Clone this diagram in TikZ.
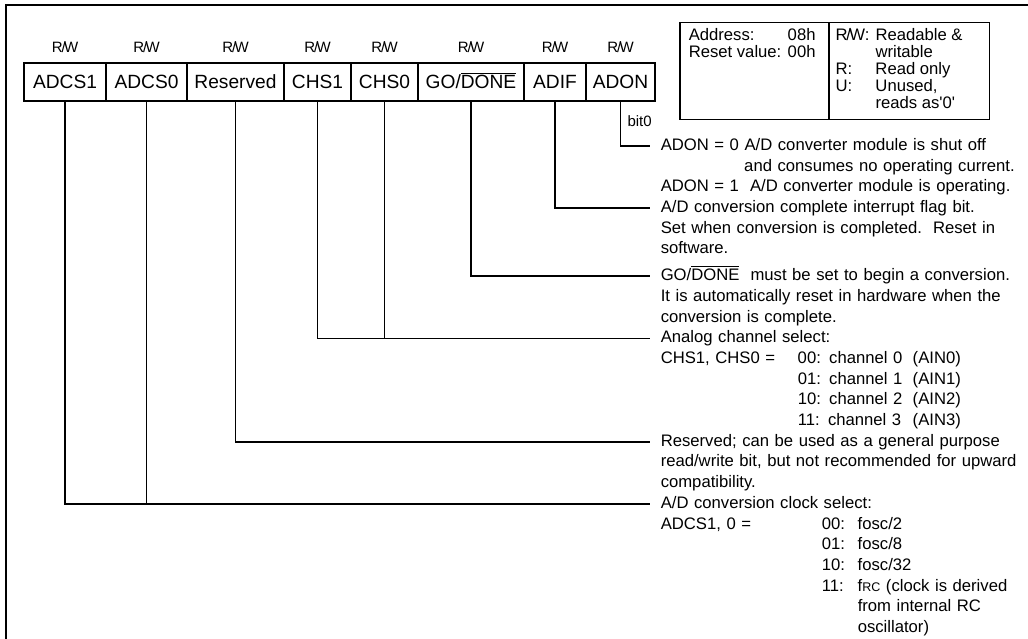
\documentclass[tikz,border=0pt]{standalone}
\usepackage{fontspec}
\setmainfont{Liberation Sans}
\usepackage{tikz}
\usetikzlibrary{positioning}
\newlength{\descw}
\setlength{\descw}{212.4pt}
\setlength{\arrayrulewidth}{0.9pt}
\newcommand{\jline}[1]{\makebox[\descw][s]{#1}}
\newcommand{\rline}[1]{\makebox[\descw][r]{#1}}
\newcommand{\rw}{R\kern-0.7pt/\kern-1pt W}
\newcommand{\notdone}{$\overline{\mbox{DONE}}$}
\newcommand{\chtab}[3]{\makebox[82.2pt][l]{#1}\makebox[69pt][l]{#2}#3}
\newcommand{\cktab}[3]{\makebox[96.6pt][l]{#1}\makebox[21.6pt][l]{#2}#3}

\begin{document}
\begin{tikzpicture}[
  x=0.6pt, y=-0.6pt,
  line width=0.9pt,
  reg/.style={draw, outer sep=0pt, inner sep=0pt, minimum height=22.8pt,
              minimum width=#1, text height=8.3pt, text depth=0pt,
              font=\fontsize{11.5}{13}\selectfont},
  acc/.style={inner sep=0pt, font=\fontsize{9}{10}\selectfont},
  desc/.style={inner sep=0pt, anchor=mid west, text width=\descw, align=left,
               font=\fontsize{10}{12.42}\selectfont},
  legend/.style={draw, inner sep=0pt, anchor=north west,
                 font=\fontsize{10}{10.2}\selectfont},
  lead/.style={shorten >=6pt},
]
\useasboundingbox (0,0) rectangle (1028,639);
% frame
\draw (6,639) -- (6,5) -- (1028,5);

% ===================== register bits =====================
\node[reg=49.2pt, anchor=north west] (adcs1) at (24,63) {ADCS1};
\node[reg=48.6pt, right=0pt of adcs1] (adcs0) {ADCS0};
\node[reg=58.2pt, right=0pt of adcs0] (res) {Reserved};
\node[reg=40.2pt, right=0pt of res] (chs1) {CHS1};
\node[reg=40.2pt, right=0pt of chs1] (chs0) {CHS0};
\node[reg=63.6pt, right=0pt of chs0] (go) {GO/\notdone};
\node[reg=37.2pt, right=0pt of go] (adif) {ADIF};
\node[reg=41.4pt, right=0pt of adif] (adon) {ADON};
\foreach \b in {adcs1,adcs0,res,chs1,chs0,go,adif,adon}
  \node[acc, above=6pt of \b] (rw-\b) {\rw};
\node[acc, below left=8.4pt and 1.5pt of adon.south east] (bit0) {bit0};

% ===================== legend =====================
\node[legend] (lgd) at (679,22) {%
\begin{tabular}{@{\hspace{5.4pt}}p{59.4pt}@{}p{24.6pt}@{}|@{\hspace{3.6pt}}p{24pt}@{}p{68.4pt}@{}}
\rule{0pt}{10.44pt}Address: & 08h & \rw: & Readable \&\\
Reset value: & 00h & & writable\\
 & & R: & Read only\\
 & & U: & Unused,\\
 & & & reads as\textquotesingle 0\textquotesingle\rule[-6.36pt]{0pt}{6.36pt}
\end{tabular}};

% ===================== bit descriptions =====================
\node[desc] (dAdon) at (660,146) {\jline{ADON = 0 A/D converter module is shut off}\\
\rline{and consumes no operating current.}\\
ADON = 1\ \ A/D converter module is operating.};
\node[desc] (dAdif) at (660,208.1) {A/D conversion complete interrupt flag bit.\\
\jline{Set when conversion is completed.\ \ Reset in}\\
software.};
\node[desc] (dGo) at (660,276.2) {GO/\notdone\ \ must be set to begin a conversion.\\
\jline{It is automatically reset in hardware when the}\\
conversion is complete.};
\node[desc] (dChs) at (660,338.3) {Analog channel select:\\
\chtab{CHS1, CHS0 =}{00: channel 0}{(AIN0)}\\
\chtab{}{01: channel 1}{(AIN1)}\\
\chtab{}{10: channel 2}{(AIN2)}\\
\chtab{}{11: channel 3}{(AIN3)}};
\node[desc] (dRes) at (660,441.8) {\jline{Reserved; can be used as a general purpose}\\
\jline{read/write bit, but not recommended for upward}\\
compatibility.};
\node[desc] (dClk) at (660,503.9) {A/D conversion clock select:\\
\cktab{ADCS1, 0 =}{00:}{fosc/2}\\
\cktab{}{01:}{fosc/8}\\
\cktab{}{10:}{fosc/32}\\
\cktab{}{11:}{f{\fontsize{7.5}{8}\selectfont RC} (clock is derived}\\
\cktab{}{}{from internal RC}\\
\cktab{}{}{oscillator)}};

% leaders from the bits
\draw[lead] (adon.south) |- (dAdon.mid west);
\draw[lead] (adif.south) |- (dAdif.mid west);
\draw[lead] (go.south) |- (dGo.mid west);
\draw[lead] (chs1.south) |- (dChs.mid west);
\draw[lead] (chs0.south) |- (dChs.mid west);
\draw[lead] (res.south) |- (dRes.mid west);
\draw[lead] (adcs1.south) |- (dClk.mid west);
\draw[lead] (adcs0.south) |- (dClk.mid west);
\end{tikzpicture}
\end{document}
